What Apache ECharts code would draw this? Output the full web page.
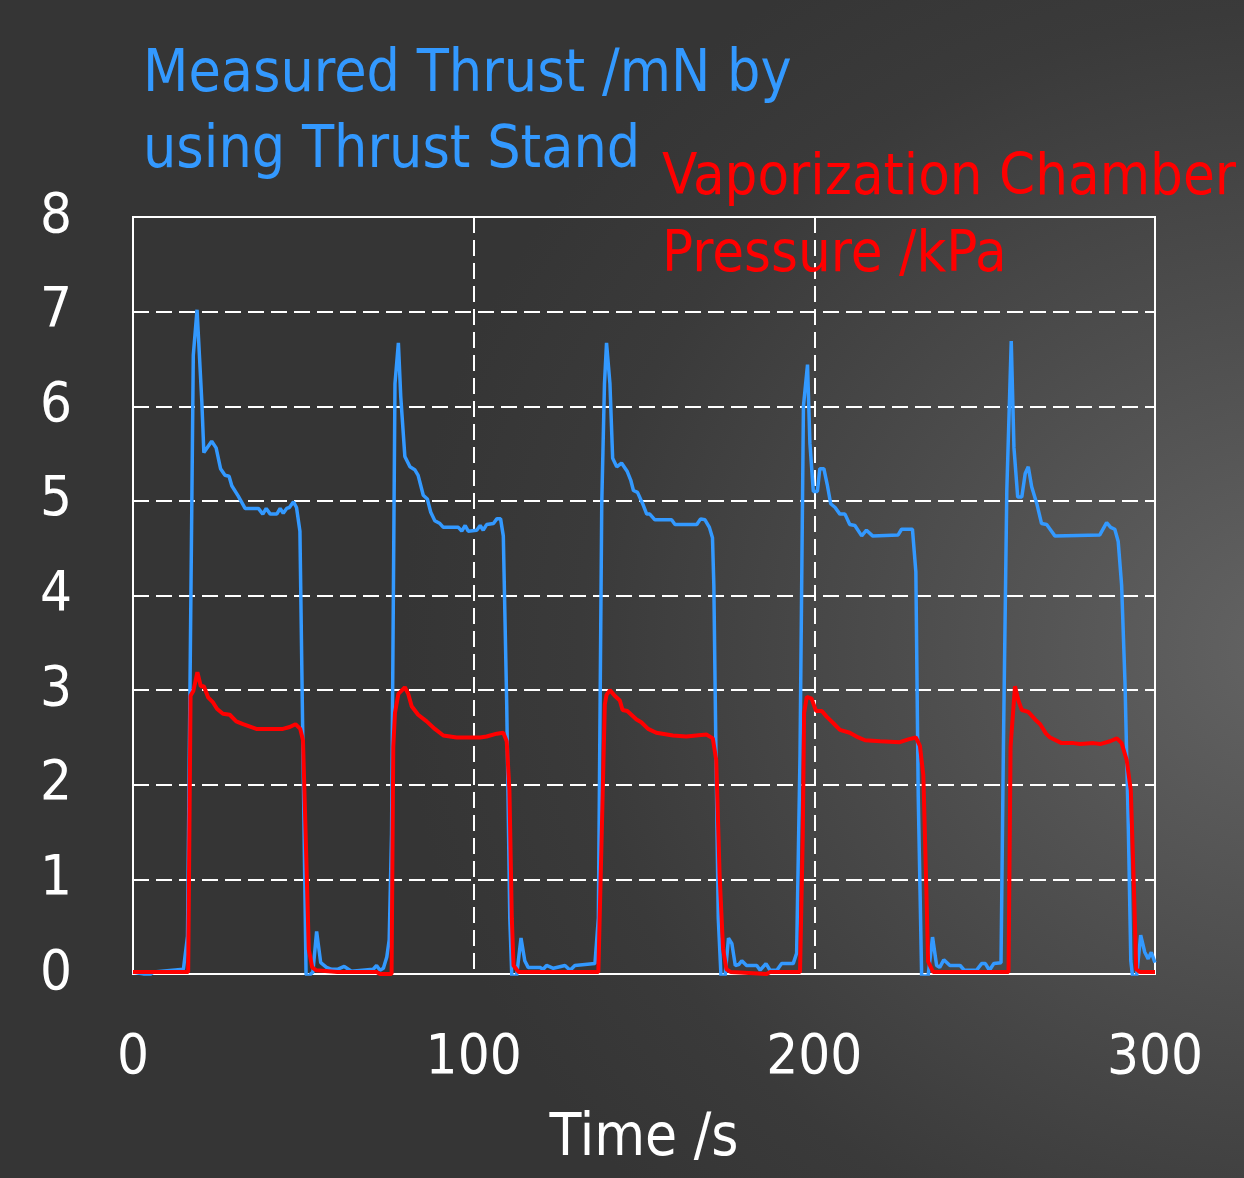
<!DOCTYPE html>
<html>
<head>
<meta charset="utf-8">
<script src="https://cdn.jsdelivr.net/npm/echarts@6/dist/echarts.min.js"></script>
<style>
    html, body { margin:0; padding:0; }
    body {
        width:1244px; height:1178px;
        background: radial-gradient(ellipse 900px 800px at 1300px 650px, #646464 0%, #4c4c4c 45%, #3a3a3a 80%, #353535 100%);
    }
    #chart { width:1244px; height:1178px; }
</style>
</head>
<body>
<div id="chart"></div>
<script>
// measured thrust, mN
const thrustTime = [
    0, 3, 4.5, 6, 14.8, 16.0, 17.7, 18.8, 20.2, 20.8, 23.1, 24.4, 25.7, 27.0, 28.2, 29.0, 30.9, 32.9, 36.8, 38.1,
    39.1, 40.3, 42.2, 43.2, 44.1, 45.1, 45.9, 47.1, 48.0, 49.0, 50.8, 51.3, 52.8, 53.9, 55.1, 56.8, 58.3, 60.0, 62.0, 64.1,
    70.5, 71.5, 72.5, 73.5, 74.5, 75.2, 75.9, 76.9, 77.9, 78.6, 79.8, 81.3, 82.7, 83.7, 85.2, 86.4, 87.4, 88.6, 90.1, 91.1,
    95.5, 96.5, 97.5, 98.4, 100.9, 101.9, 102.8, 103.8, 105.8, 106.8, 107.9, 108.7, 109.7, 110.6, 111.2, 112.6, 113.9, 115.0, 116.0, 119.4,
    120.4, 121.4, 123.4, 126.8, 128.3, 129.7, 135.6, 136.6, 137.6, 138.4, 139.0, 140.0, 140.8, 142.0, 143.4, 145.1, 146.1, 146.9, 148.1, 149.6,
    150.8, 151.7, 153.2, 158.1, 159.1, 165.5, 166.6, 167.9, 169.2, 170.1, 170.5, 171.1, 171.8, 172.6, 173.8, 174.8, 175.8, 176.8, 177.8, 178.7,
    180.1, 183.1, 184.1, 185.8, 187.0, 189.0, 190.4, 193.8, 194.8, 195.8, 196.8, 198.0, 198.7, 199.7, 200.9, 201.6, 202.8, 203.8, 204.8, 206.1,
    207.5, 209.0, 210.4, 211.9, 213.9, 215.3, 217.1, 224.6, 225.6, 228.8, 229.8, 230.5, 231.5, 233.4, 234.7, 235.9, 236.8, 238.0, 239.8, 242.8,
    244.0, 247.6, 249.1, 250.2, 251.4, 252.7, 254.8, 255.5, 256.5, 257.8, 258.6, 259.7, 260.9, 261.9, 262.8, 263.8, 265.3, 266.7, 268.2, 269.2,
    270.6, 283.8, 285.8, 287.0, 288.2, 289.2, 290.2, 291.2, 292.2, 292.9, 293.4, 294.6, 295.8, 297.0, 298.0, 298.9, 300
];
const thrustValues = [
    0.02, 0.0, -0.02, 0.02, 0.05, 0.4, 6.54, 7.02, 6.05, 5.51, 5.63, 5.56, 5.34, 5.27, 5.26, 5.16, 5.05, 4.92, 4.92, 4.86,
    4.92, 4.86, 4.86, 4.92, 4.87, 4.92, 4.93, 4.99, 4.93, 4.68, 0, -0.03, 0.02, 0.45, 0.12, 0.07, 0.05, 0.05, 0.08, 0.03,
    0.05, 0.09, 0.04, 0.06, 0.18, 0.36, 1.49, 6.24, 6.67, 6.10, 5.47, 5.36, 5.33, 5.27, 5.06, 5.02, 4.88, 4.79, 4.76, 4.72,
    4.72, 4.68, 4.74, 4.68, 4.69, 4.74, 4.69, 4.75, 4.76, 4.81, 4.81, 4.63, 2.85, 0.59, -0.02, -0.02, 0.38, 0.14, 0.07, 0.07,
    0.05, 0.09, 0.06, 0.09, 0.04, 0.09, 0.11, 0.59, 4.97, 6.24, 6.67, 6.24, 5.45, 5.36, 5.40, 5.31, 5.22, 5.11, 5.09, 4.97,
    4.86, 4.86, 4.80, 4.80, 4.75, 4.75, 4.81, 4.80, 4.72, 4.61, 4.11, 2.40, 0.59, -0.02, -0.02, 0.38, 0.32, 0.09, 0.10, 0.14,
    0.09, 0.09, 0.04, 0.11, 0.04, 0.04, 0.11, 0.11, 0.22, 2.32, 6.0, 6.44, 5.61, 5.10, 5.10, 5.34, 5.34, 5.17, 4.97, 4.93,
    4.86, 4.86, 4.75, 4.74, 4.63, 4.69, 4.63, 4.64, 4.70, 4.70, 4.25, 1.88, -0.02, -0.02, 0.39, 0.09, 0.07, 0.15, 0.09, 0.09,
    0.04, 0.04, 0.11, 0.11, 0.04, 0.11, 0.12, 2.40, 5.11, 6.69, 5.56, 5.04, 5.04, 5.29, 5.36, 5.15, 4.97, 4.76, 4.75, 4.70,
    4.63, 4.64, 4.77, 4.72, 4.70, 4.57, 4.11, 3.07, 1.49, 0.14, -0.02, -0.02, 0.41, 0.23, 0.16, 0.23, 0.12
];
// vaporization chamber pressure, kPa
const pressureTime = [
    0, 16.2, 16.9, 17.7, 18.9, 19.9, 20.8, 22.1, 23.5, 24.7, 26.4, 28.4, 30.3, 32.3, 36.2, 44.0, 46.0, 47.7, 49.1, 49.9,
    50.6, 51.6, 52.6, 53.7, 60, 71.5, 72.5, 75.9, 76.4, 76.9, 77.9, 79.8, 80.8, 81.8, 83.7, 86.2, 88.6, 91.1, 95.0, 101.9,
    103.8, 106.8, 108.7, 109.7, 110.5, 111.2, 111.7, 113.2, 136.6, 137.6, 138.5, 139.0, 140.0, 141.4, 142.9, 143.7, 145.1, 147.8, 149.2, 151.2,
    153.6, 158.5, 162.4, 168.3, 170.2, 171.2, 172.2, 173.2, 174.2, 175.5, 186, 187, 195.8, 196.6, 197.0, 197.8, 199.2, 200.5, 202.2, 203.6,
    205.6, 207.5, 210.4, 212.9, 214.9, 219.3, 225.1, 227.6, 229.8, 231.0, 232.0, 232.8, 233.4, 234.9, 257.0, 257.6, 258.9, 259.9, 260.9, 262.8,
    264.8, 266.3, 268.0, 269.2, 272.6, 276.1, 278.0, 282.0, 283.9, 286.8, 288.8, 290.2, 291.7, 292.9, 293.7, 294.5, 295.6, 300
];
const pressureValues = [
    0.02, 0.02, 2.94, 2.99, 3.19, 3.04, 3.04, 2.92, 2.87, 2.80, 2.75, 2.74, 2.67, 2.64, 2.59, 2.59, 2.61, 2.64, 2.59, 2.47,
    1.58, 0.26, 0.07, 0.04, 0.02, 0.02, 0.0, 0.0, 2.40, 2.76, 2.96, 3.03, 2.96, 2.83, 2.74, 2.67, 2.59, 2.52, 2.50, 2.50,
    2.51, 2.54, 2.55, 2.46, 1.94, 0.59, 0.09, 0.02, 0.02, 1.49, 2.85, 2.95, 3.00, 2.94, 2.89, 2.79, 2.78, 2.69, 2.66, 2.59,
    2.55, 2.52, 2.51, 2.53, 2.49, 2.26, 1.04, 0.27, 0.05, 0.02, 0.0, 0.02, 0.02, 1.45, 2.76, 2.93, 2.91, 2.78, 2.78, 2.72,
    2.65, 2.58, 2.55, 2.50, 2.47, 2.46, 2.45, 2.48, 2.50, 2.41, 2.10, 1.01, 0.13, 0.02, 0.02, 2.40, 3.04, 2.89, 2.79, 2.77,
    2.69, 2.64, 2.54, 2.50, 2.44, 2.44, 2.43, 2.44, 2.43, 2.46, 2.49, 2.44, 2.26, 1.94, 1.04, 0.05, 0.02, 0.02
];
const xTicks = [0, 100, 200, 300];
const yTicks = [0, 1, 2, 3, 4, 5, 6, 7, 8];

let fontName = "'Liberation Sans Narrow', 'DejaVu Sans Condensed', sans-serif";
let zip = (a, b) => a.map((t, i) => [t, b[i]]);

let option = {
    animation: false,
    textStyle: { fontFamily: fontName },
    title: [
        {
            text: "Measured Thrust /mN by\nusing Thrust Stand",
            left: 143,
            top: 38,
            padding: 0,
            textStyle: { color: "#3399ff", fontSize: 58.5, fontWeight: "normal", fontFamily: fontName, lineHeight: 76 }
        },
        {
            text: "Vaporization Chamber\nPressure /kPa",
            left: 662,
            top: 141,
            padding: 0,
            textStyle: { color: "#ff0000", fontSize: 57.5, fontWeight: "normal", fontFamily: fontName, lineHeight: 77 }
        }
    ],
    grid: {
        left: 133,
        right: 89,
        top: 217,
        bottom: 204,
        show: true,
        borderColor: "#ffffff",
        borderWidth: 2
    },
    xAxis: {
        type: "value",
        min: xTicks[0],
        max: xTicks[xTicks.length - 1],
        interval: 100,
        name: "Time /s",
        nameLocation: "middle",
        nameGap: 137,
        nameTextStyle: { color: "#ffffff", fontSize: 58, fontFamily: fontName },
        axisLine: { show: true, lineStyle: { color: "#ffffff", width: 2 } },
        axisTick: { show: false },
        axisLabel: { color: "#ffffff", fontSize: 56, margin: 56, fontFamily: fontName },
        splitLine: {
            show: true,
            lineStyle: { color: "#ffffff", type: [16, 7], width: 2 }
        }
    },
    yAxis: {
        type: "value",
        min: yTicks[0],
        max: yTicks[yTicks.length - 1],
        interval: 1,
        axisLine: { show: true, lineStyle: { color: "#ffffff", width: 2 } },
        axisTick: { show: false },
        axisLabel: { color: "#ffffff", fontSize: 56, margin: 61, fontFamily: fontName },
        splitLine: {
            show: true,
            lineStyle: { color: "#ffffff", type: [16, 7], width: 2 }
        }
    },
    series: [
        {
            name: "Thrust",
            type: "line",
            showSymbol: false,
            lineStyle: { color: "#3399ff", width: 3.5 },
            data: zip(thrustTime, thrustValues)
        },
        {
            name: "Pressure",
            type: "line",
            showSymbol: false,
            lineStyle: { color: "#ff0000", width: 4 },
            data: zip(pressureTime, pressureValues)
        }
    ]
};

let myChart = echarts.init(document.getElementById("chart"));
myChart.setOption(option);
</script>
</body>
</html>
